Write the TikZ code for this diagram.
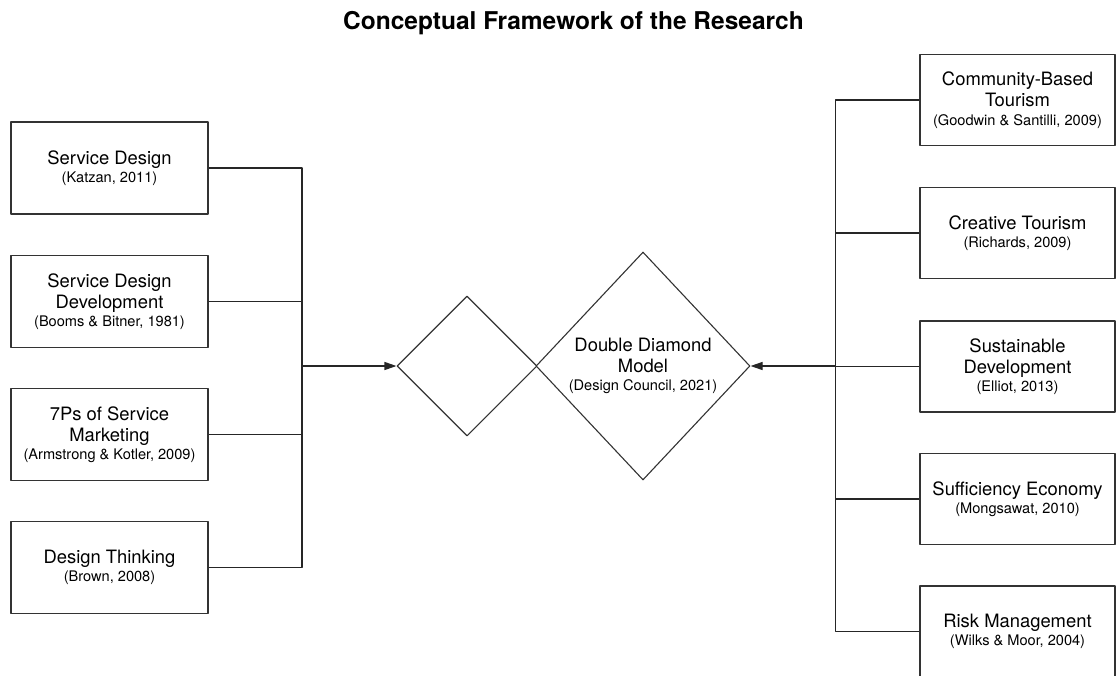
\documentclass[tikz,border=0pt]{standalone}
\usepackage{fontspec}
\setmainfont{TeX Gyre Heros}
\usetikzlibrary{shapes.geometric,arrows.meta}
\newcommand{\boxfont}{\fontsize{18.4}{21}\selectfont}
\newcommand{\yrfont}{\fontsize{14.6}{17}\selectfont}
\newcommand{\titlefont}{\fontsize{24.5}{28}\selectfont\bfseries}
\begin{document}
\begin{tikzpicture}[x=1pt,y=-1pt,line join=round,>={Triangle[length=12pt,width=8pt]},
	box/.style={draw=black!80,line width=1.1pt,minimum width=197pt,minimum height=92pt,inner sep=0pt,align=center,font=\boxfont},
	rbox/.style={box,minimum width=195pt,minimum height=91pt},
	dia/.style={draw=black!80,line width=1.1pt,shape=diamond,inner sep=0pt,align=center,font=\boxfont},
	wire/.style={draw=black!85,line width=1.1pt}]
	\useasboundingbox (0,0) rectangle (1116,675);
	\node[anchor=base,font=\titlefont] (title) at (573.5,29) {Conceptual Framework of the Research};
	% left column
	\node[box] (sd)  at (109.5,168)   {Service Design\\[-2.5pt]\yrfont (Katzan, 2011)};
	\node[box] (sdd) at (109.5,301.5) {Service Design\\Development\\[-2.5pt]\yrfont (Booms \& Bitner, 1981)};
	\node[box] (sp)  at (109.5,434.5) {7Ps of Service\\Marketing\\[-2.5pt]\yrfont (Armstrong \& Kotler, 2009)};
	\node[box] (dt)  at (109.5,567.5) {Design Thinking\\[-2.5pt]\yrfont (Brown, 2008)};
	% double diamond
	\node[dia,minimum width=140pt,minimum height=140pt] (dd1) at (467,366) {};
	\node[dia,minimum width=214pt,minimum height=228pt] (dd2) at (643,366) {Double Diamond\\Model\\[-2.5pt]\yrfont (Design Council, 2021)};
	% right column
	\node[rbox] (cbt) at (1017.5,100)   {Community-Based\\Tourism\\[-2.5pt]\yrfont (Goodwin \& Santilli, 2009)};
	\node[rbox] (ct)  at (1017.5,233)   {Creative Tourism\\[-2.5pt]\yrfont (Richards, 2009)};
	\node[rbox] (sus) at (1017.5,366.5) {Sustainable\\Development\\[-2.5pt]\yrfont (Elliot, 2013)};
	\node[rbox] (se)  at (1017.5,499)   {Sufficiency Economy\\[-2.5pt]\yrfont (Mongsawat, 2010)};
	\node[rbox] (rm)  at (1017.5,631.5) {Risk Management\\[-2.5pt]\yrfont (Wilks \& Moor, 2004)};
	% connectors
	\coordinate (lhub) at (302,366);
	\coordinate (rhub) at (835.5,366);
	\foreach \n in {sd,sdd,sp,dt} \draw[wire] (\n.east) -| (lhub);
	\draw[wire,->] (lhub) -- (dd1.west);
	\foreach \n in {cbt,ct,sus,se,rm} \draw[wire] (\n.west) -| (rhub);
	\draw[wire,->] (rhub) -- (dd2.east);
\end{tikzpicture}
\end{document}
